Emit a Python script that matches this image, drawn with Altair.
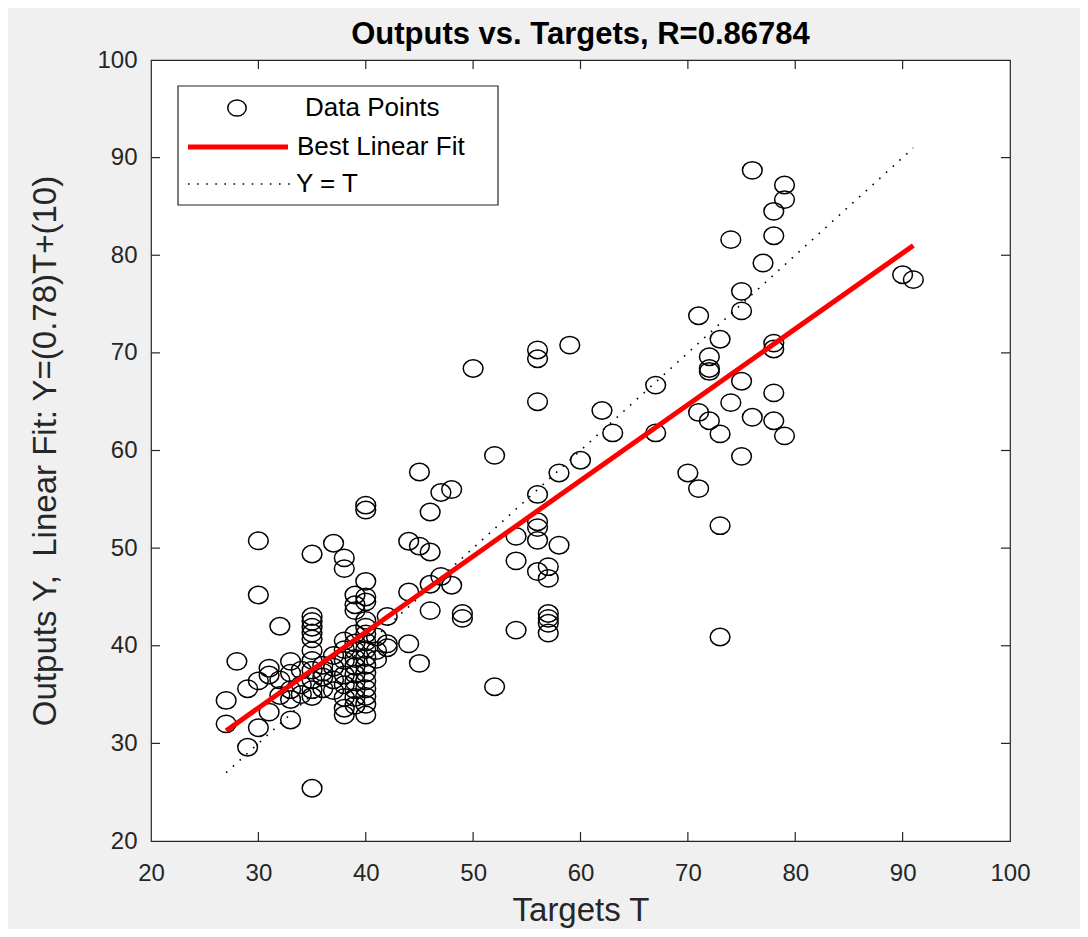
import altair as alt
import pandas as pd

# ---------------- data ----------------
targets = [
    76, 79, 79, 78, 74, 78, 77, 75, 75, 71, 73, 72, 72, 72, 67, 78, 78, 75, 78, 74,
    71, 72, 73, 76, 78, 79, 67, 75, 70, 71, 73, 73, 90, 91,
    56, 56, 59, 56, 50, 52, 62, 63, 60, 58, 47, 48, 56, 56, 56, 56, 54, 58, 54, 56,
    57, 57, 49, 49, 54, 57, 57, 57, 57, 52, 45, 46, 44, 45, 46, 47, 48, 46, 44, 46,
    44, 45, 42, 42, 41,
    30, 30, 32, 28, 27, 27, 29, 30, 35, 35, 37, 38, 38, 40, 40, 40, 40, 39, 39, 35,
    35, 35, 35, 35, 40, 33, 33, 29, 30, 31, 31, 32, 31, 33, 38, 40,
    32, 33, 33, 34, 34, 34, 35, 35, 35, 35, 35, 35, 36, 36, 36, 36, 37, 37, 37, 37,
    38, 38, 38, 38, 38, 38, 38, 39, 39, 39, 39, 39, 39, 39, 39, 39, 39, 39,
    40, 40, 40, 40, 40, 40, 40, 40, 40, 40, 40, 40, 41, 41, 42,
]
outputs = [
    88.7, 87.2, 85.7, 84.5, 81.6, 82.0, 79.2, 76.3, 74.3, 73.8, 71.4, 69.6, 68.4, 68.1,
    66.7, 71.0, 70.4, 67.1, 65.9, 64.9, 63.9, 63.05, 61.7, 63.4, 63.05, 61.5, 61.8, 59.4,
    57.7, 56.1, 52.3, 40.9, 78.0, 77.5,
    70.3, 69.4, 70.8, 65.0, 68.4, 59.5, 64.1, 61.8, 59.0, 57.7, 55.7, 56.0, 55.5, 52.7,
    52.1, 50.8, 51.2, 50.3, 48.7, 47.6, 48.1, 46.9, 43.3, 42.8, 41.6, 43.3, 42.8, 42.3,
    41.3, 35.8, 57.8, 53.7, 50.7, 50.2, 49.6, 47.1, 46.2, 46.3, 45.5, 43.6, 40.2, 38.2,
    43.0, 40.2, 40.9,
    50.75, 45.2, 42.0, 38.4, 34.4, 32.0, 29.6, 31.6, 25.4, 49.4, 50.5, 49.0, 47.9, 54.4,
    53.9, 46.6, 45.0, 45.2, 44.2, 43.0, 42.5, 41.9, 41.3, 40.7, 42.6, 38.4, 37.2, 35.6,
    36.4, 37.7, 37.0, 34.9, 33.2, 32.4, 32.9, 32.9,
    36.5, 35.5, 34.5, 36.0, 37.5, 35.0, 39.5, 38.5, 37.5, 36.5, 35.5, 34.8, 38.0, 36.8,
    35.6, 37.3, 39.0, 37.8, 36.5, 35.4,
    40.5, 39.6, 38.5, 37.0, 36.0, 34.7, 33.6, 43.6, 41.2, 40.3, 39.5, 38.7, 37.9, 37.1,
    36.3, 35.5, 34.7, 33.9,
    44.5, 41.9, 41.2, 40.4, 39.6, 38.8, 38.0, 37.2, 36.4, 35.6, 34.8, 34.0, 39.5, 38.6,
    39.8,
]
fit_t = [27, 91]
fit_y = [31.3, 81.0]
ident_t = [27, 91]
ident_y = [27, 91]
axis_values = [20, 30, 40, 50, 60, 70, 80, 90, 100]
inner_ticks = [30, 40, 50, 60, 70, 80, 90]
legend_labels = ["Data Points", "Best Linear Fit", "Y = T"]
title_text = "Outputs vs. Targets, R=0.86784"
x_title = "Targets T"
y_title = "Outputs Y,\u00a0 Linear Fit: Y=(0.78)T+(10)"

# ---------------- tables ----------------
pts = pd.DataFrame({"x": targets, "y": outputs})
fit = pd.DataFrame({"x": fit_t, "y": fit_y})
ident = pd.DataFrame({"x": ident_t, "y": ident_y})
tk = pd.DataFrame({"x": inner_ticks, "y": inner_ticks})
one = pd.DataFrame({"label": [legend_labels[0]]})

W, H = 859, 781
FONT = "Liberation Sans"
INK = "#262626"
# slightly wide ellipse, as the circles appear in the reference picture
OVAL = "M-1,0A1,0.88,0,1,1,1,0A1,0.88,0,1,1,-1,0Z"

xs = alt.Scale(domain=[20, 100], nice=False, zero=False)
ys = alt.Scale(domain=[20, 100], nice=False, zero=False)

xaxis = alt.Axis(values=axis_values, ticks=False, domain=False, grid=False,
                 labelFontSize=24, labelFont=FONT, labelColor=INK, labelPadding=20,
                 labelFlush=False,
                 title=x_title, titleFont=FONT, titleFontSize=33, titleFontWeight="normal",
                 titleColor=INK, titlePadding=9)
yaxis = alt.Axis(values=axis_values, ticks=False, domain=False, grid=False,
                 labelFontSize=24, labelFont=FONT, labelColor=INK, labelPadding=14,
                 labelFlush=False,
                 title=y_title, titleFont=FONT, titleFontSize=33, titleFontWeight="normal",
                 titleColor=INK, titlePadding=34)

X = alt.X("x:Q", scale=xs, axis=xaxis)
Y = alt.Y("y:Q", scale=ys, axis=yaxis)

points = alt.Chart(pts).mark_point(shape=OVAL, filled=False, stroke="black",
                                   strokeWidth=1.5, size=390, opacity=1).encode(x=X, y=Y)

ident_line = alt.Chart(ident).mark_line(color="black", strokeWidth=1.6,
                                        strokeDash=[1.6, 7.5]).encode(x=X, y=Y)

fit_line = alt.Chart(fit).mark_line(color="#FF0000", strokeWidth=5).encode(x=X, y=Y)

TL = 9
tick_style = dict(color=INK, strokeWidth=1.2)
t_bottom = alt.Chart(tk).mark_rule(**tick_style).encode(
    x=X, y=alt.value(H), y2=alt.value(H - TL))
t_top = alt.Chart(tk).mark_rule(**tick_style).encode(
    x=X, y=alt.value(0), y2=alt.value(TL))
t_left = alt.Chart(tk).mark_rule(**tick_style).encode(
    y=Y, x=alt.value(0), x2=alt.value(TL))
t_right = alt.Chart(tk).mark_rule(**tick_style).encode(
    y=Y, x=alt.value(W), x2=alt.value(W - TL))

# ---------------- legend (drawn in pixel space) ----------------
lg_box = alt.Chart(one).mark_rect(fill="white", stroke=INK, strokeWidth=1.2).encode(
    x=alt.value(27), x2=alt.value(347), y=alt.value(26), y2=alt.value(145))
lg_circle = alt.Chart(one).mark_point(shape=OVAL, filled=False, stroke="black",
                                      strokeWidth=1.5, size=340, opacity=1).encode(
    x=alt.value(86), y=alt.value(48))
lg_red = alt.Chart(one).mark_rule(color="#FF0000", strokeWidth=5).encode(
    x=alt.value(37), x2=alt.value(137), y=alt.value(87))
lg_dot = alt.Chart(one).mark_rule(color="black", strokeWidth=1.6,
                                  strokeDash=[1.6, 7.5]).encode(
    x=alt.value(37), x2=alt.value(139), y=alt.value(124))
txt_style = dict(font=FONT, fontSize=26, color="black", align="left", baseline="middle")
lg_t1 = alt.Chart(one).mark_text(text=legend_labels[0], **txt_style).encode(
    x=alt.value(154), y=alt.value(48))
lg_t2 = alt.Chart(one).mark_text(text=legend_labels[1], **txt_style).encode(
    x=alt.value(146), y=alt.value(87))
lg_t3 = alt.Chart(one).mark_text(text=legend_labels[2], **txt_style).encode(
    x=alt.value(145), y=alt.value(124))

chart = alt.layer(
    points, ident_line, fit_line, t_bottom, t_top, t_left, t_right,
    lg_box, lg_circle, lg_red, lg_dot, lg_t1, lg_t2, lg_t3,
).properties(
    width=W, height=H,
    title=alt.TitleParams(title_text, font=FONT, fontSize=31, fontWeight="bold",
                          color="black", anchor="middle", offset=-3),
    background="#F0F0F0",
    padding={"left": 143, "top": 52, "right": 70, "bottom": 88},
    autosize=alt.AutoSizeParams(type="none"),
).configure_view(stroke=INK, strokeWidth=1.2, fill="white")

chart.save("out.html", embed_options={"renderer": "svg", "actions": False})
